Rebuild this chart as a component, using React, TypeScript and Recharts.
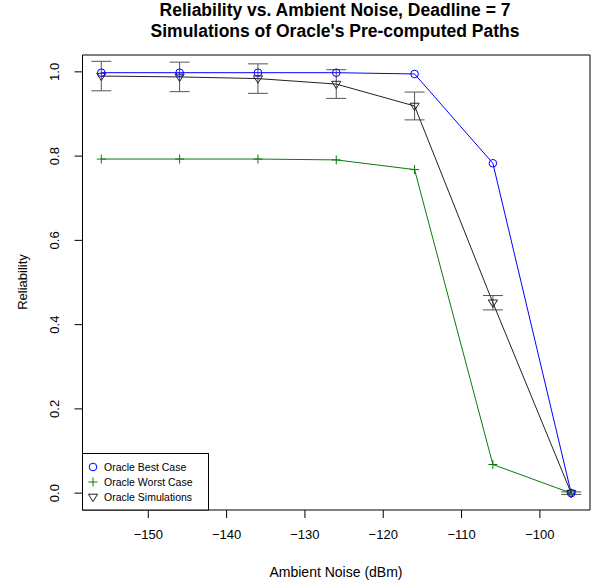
import React from 'react';
import { ErrorBar, Line, LineChart, ReferenceLine, XAxis, YAxis } from 'recharts';

// ambient noise levels (dBm)
const noise = [-156, -146, -136, -126, -116, -106, -96];
const bestCase = [0.998, 0.998, 0.998, 0.998, 0.995, 0.783, 0.0];
const worstCase = [0.793, 0.793, 0.793, 0.791, 0.768, 0.068, 0.0];
const simulations = [0.99, 0.988, 0.984, 0.971, 0.919, 0.452, 0.0];
const simError = [0.035, 0.035, 0.035, 0.034, 0.033, 0.017, 0.003];

const xTicks = [-150, -140, -130, -120, -110, -100];
const yTicks = [0, 0.2, 0.4, 0.6, 0.8, 1.0];

const data = noise.map((n, i) => ({
  noise: n,
  best: bestCase[i],
  worst: worstCase[i],
  sim: simulations[i],
  simErr: simError[i],
}));

const BLUE = '#0000ff';
const GREEN = '#0b7a0b';
const DARK = '#222222';
const FONT = '"Liberation Sans", Arial, Helvetica, sans-serif';

const Circle = (props: any) => {
  const { cx, cy, index } = props;
  return <circle key={'c' + index} cx={cx} cy={cy} r={3.8} fill="none" stroke={BLUE} strokeWidth={1} />;
};

const Plus = (props: any) => {
  const { cx, cy, index } = props;
  const s = 4.5;
  return (
    <path
      key={'p' + index}
      d={`M${cx - s},${cy}H${cx + s}M${cx},${cy - s}V${cy + s}`}
      stroke={GREEN}
      strokeWidth={1}
      fill="none"
    />
  );
};

const DownTri = (props: any) => {
  const { cx, cy, index } = props;
  const s = 4.6;
  return (
    <path
      key={'t' + index}
      d={`M${cx - s},${cy - s * 0.6}L${cx + s},${cy - s * 0.6}L${cx},${cy + s}Z`}
      stroke={DARK}
      strokeWidth={1}
      fill="none"
    />
  );
};

const YTick = (props: any) => {
  const { x, y, payload } = props;
  return (
    <text
      x={x}
      y={y}
      transform={`rotate(-90, ${x}, ${y})`}
      textAnchor="middle"
      fontSize={13}
      fontFamily={FONT}
      fill="#000"
    >
      {Number(payload.value).toFixed(1)}
    </text>
  );
};

export default function App() {
  return (
    <div style={{ position: 'relative', width: 595, height: 584 }}>
      <style>{'body { margin: 0; }'}</style>
      <LineChart width={595} height={584} data={data} margin={{ top: 55, right: 5, bottom: 0, left: 0 }}>
        <XAxis
          dataKey="noise"
          type="number"
          domain={[-158.4, -93.6]}
          ticks={xTicks}
          allowDataOverflow
          height={74}
          tickSize={8}
          tickMargin={12}
          stroke="#000"
          tickFormatter={(v: number) => String(v).replace('-', '\u2212')}
          tick={{ fontSize: 13, fontFamily: FONT, fill: '#000' }}
        />
        <YAxis
          type="number"
          domain={[-0.04, 1.04]}
          ticks={yTicks}
          allowDataOverflow
          width={82.5}
          tickSize={8}
          tickMargin={15}
          stroke="#000"
          tick={<YTick />}
        />
        <ReferenceLine y={1.04} stroke="#000" />
        <ReferenceLine x={-93.6} stroke="#000" />
        <Line
          dataKey="sim"
          type="linear"
          stroke={DARK}
          strokeWidth={1}
          dot={DownTri}
          activeDot={false}
          isAnimationActive={false}
        >
          <ErrorBar dataKey="simErr" direction="y" width={10} stroke="#555" strokeWidth={1} />
        </Line>
        <Line
          dataKey="worst"
          type="linear"
          stroke={GREEN}
          strokeWidth={1}
          dot={Plus}
          activeDot={false}
          isAnimationActive={false}
        />
        <Line
          dataKey="best"
          type="linear"
          stroke={BLUE}
          strokeWidth={1}
          dot={Circle}
          activeDot={false}
          isAnimationActive={false}
        />
      </LineChart>
      <svg
        width={595}
        height={584}
        style={{ position: 'absolute', left: 0, top: 0, pointerEvents: 'none' }}
        fontFamily={FONT}
      >
        <text x={335} y={15.5} textAnchor="middle" fontSize={17.5} fontWeight="bold">
          Reliability vs. Ambient Noise, Deadline = 7
        </text>
        <text x={335} y={37} textAnchor="middle" fontSize={17.5} fontWeight="bold">
          Simulations of Oracle's Pre-computed Paths
        </text>
        <text x={336} y={577} textAnchor="middle" fontSize={14}>
          Ambient Noise (dBm)
        </text>
        <text x={27} y={282} textAnchor="middle" fontSize={13} transform="rotate(-90, 27, 282)">
          Reliability
        </text>
        <rect x={82.5} y={453.5} width={126} height={56.5} fill="#fff" stroke="#000" strokeWidth={1} />
        <circle cx={93} cy={467} r={3.8} fill="none" stroke={BLUE} />
        <path d="M88.5,482H97.5M93,477.5V486.5" stroke={GREEN} fill="none" />
        <path d="M88.4,494.2L97.6,494.2L93,501.6Z" stroke={DARK} fill="none" />
        <text x={104} y={471} fontSize={10.5}>Oracle Best Case</text>
        <text x={104} y={486} fontSize={10.5}>Oracle Worst Case</text>
        <text x={104} y={501} fontSize={10.5}>Oracle Simulations</text>
      </svg>
    </div>
  );
}
